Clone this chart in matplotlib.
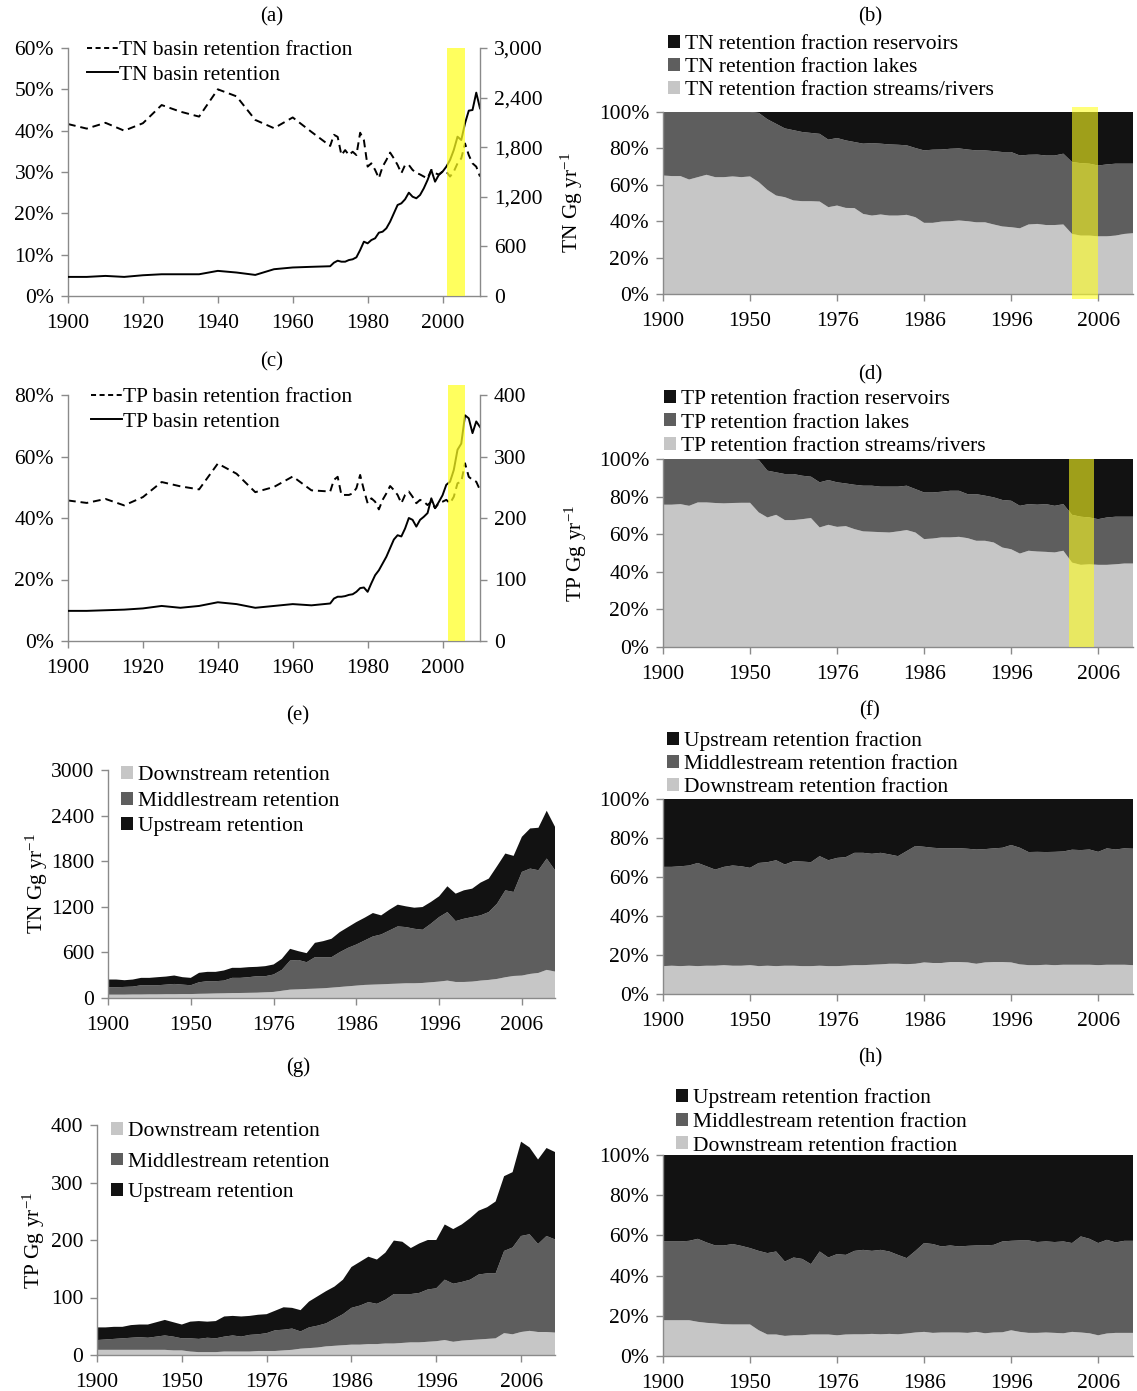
import numpy as np
import matplotlib
matplotlib.use('Agg')
import matplotlib.pyplot as plt
from matplotlib.patches import Patch
from matplotlib.lines import Line2D
from matplotlib.ticker import FuncFormatter

plt.rcParams['font.family'] = ['Liberation Serif', 'DejaVu Serif']
plt.rcParams['mathtext.fontset'] = 'custom'
plt.rcParams['mathtext.rm'] = 'Liberation Serif'
plt.rcParams['mathtext.it'] = 'Liberation Serif:italic'
plt.rcParams['mathtext.default'] = 'rm'

# ---------------- data ----------------
years = [1900, 1905, 1910, 1915, 1920, 1925, 1930, 1935, 1940, 1945, 1950, 1955, 1960, 1965, 1970,
         1971, 1972, 1973, 1974, 1975, 1976, 1977, 1978, 1979, 1980,
         1981, 1982, 1983, 1984, 1985, 1986, 1987, 1988, 1989, 1990,
         1991, 1992, 1993, 1994, 1995, 1996, 1997, 1998, 1999, 2000,
         2001, 2002, 2003, 2004, 2005, 2006, 2007, 2008, 2009, 2010]
tick_labels = ['1900', '1950', '1976', '1986', '1996', '2006']

# (a) TN basin
tn_frac = [41.6, 40.5, 41.9, 40.0, 41.8, 46.2, 44.6, 43.4, 50.0, 48.3, 42.6, 40.6, 43.2, 39.7, 36.3,
           39.0, 38.5, 34.1, 35.3, 34.1, 34.9, 34.1, 39.5, 37.7, 31.3,
           32.1, 30.5, 28.5, 31.3, 32.9, 34.7, 33.3, 31.7, 29.7, 31.7,
           31.7, 30.5, 29.8, 29.4, 28.9, 28.5, 30.5, 29.7, 29.4, 30.1,
           30.1, 28.9, 30.1, 32.1, 33.3, 36.9, 34.1, 32.1, 31.3, 28.9]
tn_ret = [231, 231, 243, 231, 251, 263, 263, 263, 304, 284, 255, 324, 345, 353, 360,
          403, 427, 415, 415, 435, 444, 468, 556, 657, 637,
          677, 698, 766, 778, 819, 899, 1000, 1101, 1121, 1170,
          1250, 1201, 1182, 1222, 1303, 1403, 1524, 1383, 1464, 1504,
          1564, 1645, 1766, 1927, 1887, 2089, 2242, 2250, 2460, 2270]

# (c) TP basin
tp_frac = [45.7, 44.9, 46.2, 44.1, 46.8, 51.7, 50.3, 49.3, 57.7, 54.4, 48.4, 50.1, 53.5, 49.0, 48.6,
           52.4, 53.4, 47.5, 47.5, 47.5, 48.0, 49.7, 54.0, 49.1, 44.8,
           46.4, 45.3, 42.8, 45.9, 48.0, 50.4, 49.1, 47.5, 44.8, 47.5,
           48.6, 46.9, 44.8, 45.9, 45.3, 44.2, 45.3, 43.2, 44.8, 45.3,
           45.9, 44.8, 46.9, 51.3, 51.8, 57.8, 53.4, 52.4, 51.8, 49.1]
tp_ret = [49, 49, 50, 51, 53, 57, 54, 57, 63, 60, 54, 57, 60, 58, 61,
          69, 72, 72, 73, 75, 76, 80, 86, 87, 80,
          94, 107, 115, 126, 137, 151, 165, 172, 170, 183,
          200, 197, 186, 197, 202, 208, 232, 216, 226, 237,
          254, 259, 278, 311, 321, 367, 362, 338, 357, 348]

# (b) TN retention fractions (%)
tn_streams = [65.1, 64.8, 64.8, 62.9, 64.2, 65.5, 64.2, 64.2, 64.6, 64.2, 64.6,
              61.5, 57.2, 54.1, 53.2, 51.4, 51.0, 51.0, 50.8, 47.7, 48.6,
              47.3, 47.2, 44.0, 43.1, 43.7, 43.1, 43.1, 43.5, 42.2, 39.1,
              39.1, 39.8, 40.0, 40.4, 40.0, 39.4, 39.4, 38.2, 37.1, 36.7,
              36.1, 38.2, 38.5, 37.9, 37.9, 38.2, 33.0, 32.1, 32.1, 31.7,
              31.7, 32.1, 33.0, 33.4]
tn_lakes = [34.9, 35.2, 35.2, 37.1, 35.8, 34.5, 35.8, 35.8, 35.4, 35.8, 35.4,
            38.0, 38.8, 39.4, 37.8, 38.6, 38.0, 37.5, 37.2, 37.1, 37.1,
            37.1, 36.3, 38.6, 39.8, 38.9, 39.1, 38.9, 38.2, 38.0, 39.8,
            40.2, 39.6, 39.8, 39.6, 39.4, 39.5, 39.5, 40.3, 40.9, 41.3,
            40.0, 38.3, 38.1, 38.2, 38.2, 38.9, 39.5, 39.8, 39.5, 38.9,
            39.5, 39.5, 38.6, 38.2]
tn_reservoirs = [0, 0, 0, 0, 0, 0, 0, 0, 0, 0, 0,
                 0.5, 4.0, 6.5, 9.0, 10.0, 11.0, 11.5, 12.0, 15.2, 14.3,
                 15.6, 16.5, 17.4, 17.1, 17.4, 17.8, 18.0, 18.3, 19.8, 21.1,
                 20.7, 20.6, 20.2, 20.0, 20.6, 21.1, 21.1, 21.5, 22.0, 22.0,
                 23.9, 23.5, 23.4, 23.9, 23.9, 22.9, 27.5, 28.1, 28.4, 29.4,
                 28.8, 28.4, 28.4, 28.4]

# (d) TP retention fractions (%)
tp_streams = [75.7, 75.7, 76.0, 75.1, 76.9, 76.9, 76.6, 76.4, 76.6, 76.7, 76.7,
              71.6, 68.9, 70.3, 67.5, 67.5, 68.0, 68.6, 63.6, 65.0, 63.9,
              64.3, 62.7, 61.5, 61.3, 61.1, 60.9, 61.5, 62.2, 60.9, 57.4,
              57.7, 58.3, 58.3, 58.6, 57.9, 56.5, 56.5, 55.6, 52.9, 52.0,
              49.7, 51.2, 50.8, 50.6, 50.3, 51.2, 44.9, 43.7, 44.0, 43.7,
              43.7, 44.0, 44.4, 44.4]
tp_lakes = [24.3, 24.3, 24.0, 24.9, 23.1, 23.1, 23.4, 23.6, 23.4, 23.3, 23.3,
            27.9, 24.9, 22.6, 24.5, 24.5, 23.1, 22.0, 24.0, 23.8, 23.7,
            22.7, 23.6, 24.3, 24.5, 24.2, 24.4, 23.8, 23.6, 23.1, 24.8,
            24.5, 24.3, 24.8, 24.5, 23.4, 24.8, 24.0, 24.0, 25.3, 25.8,
            25.4, 24.8, 24.9, 25.4, 24.8, 24.8, 25.4, 25.6, 24.9, 24.3,
            25.2, 25.3, 24.9, 24.9]
tp_reservoirs = [0, 0, 0, 0, 0, 0, 0, 0, 0, 0, 0,
                 0.5, 6.2, 7.1, 8.0, 8.0, 8.9, 9.4, 12.4, 11.2, 12.4,
                 13.0, 13.7, 14.2, 14.2, 14.7, 14.7, 14.7, 14.2, 16.0, 17.8,
                 17.8, 17.4, 16.9, 16.9, 18.7, 18.7, 19.5, 20.4, 21.8, 22.2,
                 24.9, 24.0, 24.3, 24.0, 24.9, 24.0, 29.7, 30.7, 31.1, 32.0,
                 31.1, 30.7, 30.7, 30.7]

# (e) TN retention by reach (Gg/yr)
tn_down = [44, 44, 44, 46, 46, 48, 48, 50, 50, 52, 52,
           55, 57, 60, 62, 65, 66, 68, 70, 75, 80,
           95, 110, 114, 119, 123, 128, 136, 145, 154, 163,
           172, 176, 180, 185, 189, 194, 194, 198, 207, 216,
           229, 211, 211, 216, 229, 238, 251, 273, 290, 295,
           317, 330, 370, 348]
tn_middle = [97, 97, 102, 104, 122, 120, 120, 126, 135, 124, 116,
             152, 164, 161, 167, 200, 199, 206, 217, 212, 229,
             275, 383, 386, 352, 414, 409, 401, 458, 506, 541,
             585, 634, 656, 704, 753, 739, 717, 700, 770, 849,
             902, 801, 832, 849, 858, 893, 990, 1144, 1105, 1364,
             1386, 1351, 1465, 1333]
tn_up = [102, 102, 88, 93, 97, 97, 106, 106, 111, 98, 97,
         124, 123, 123, 133, 132, 132, 132, 123, 132, 132,
         145, 154, 116, 119, 189, 211, 242, 264, 273, 295,
         299, 308, 251, 273, 286, 273, 277, 299, 286, 273,
         339, 361, 374, 374, 431, 440, 493, 484, 475, 462,
         528, 559, 629, 572]

# (f) TN retention fractions by reach (%)
tn_down_f = [14.3, 14.5, 14.3, 14.5, 14.3, 14.5, 14.5, 14.8, 14.5, 14.5, 14.8,
             14.3, 14.5, 14.3, 14.5, 14.5, 14.3, 14.3, 14.5, 14.3, 14.3,
             14.5, 14.8, 14.8, 15.0, 15.2, 15.5, 15.5, 15.3, 15.5, 16.2,
             15.9, 15.9, 16.4, 16.4, 16.2, 15.5, 16.2, 16.4, 16.4, 16.2,
             15.2, 14.8, 14.8, 15.0, 14.8, 15.0, 15.0, 15.0, 15.0, 14.8,
             15.0, 15.0, 15.0, 14.8]
tn_middle_f = [50.9, 50.7, 51.2, 51.4, 52.9, 51.0, 49.3, 50.4, 51.4, 51.0, 49.9,
               52.9, 53.1, 54.3, 51.9, 53.6, 53.6, 53.3, 56.2, 54.3, 55.5,
               55.7, 57.6, 57.6, 56.9, 57.2, 56.1, 55.2, 58.0, 60.4, 59.3,
               59.1, 58.8, 58.3, 58.4, 58.3, 58.6, 58.1, 58.3, 58.6, 60.2,
               59.8, 58.0, 58.1, 57.8, 58.1, 58.1, 59.0, 58.8, 59.1, 58.1,
               59.7, 59.1, 59.7, 59.7]
tn_up_f = [34.8, 34.8, 34.5, 34.1, 32.8, 34.5, 36.2, 34.8, 34.1, 34.5, 35.3,
           32.8, 32.4, 31.4, 33.6, 31.9, 32.1, 32.4, 29.3, 31.4, 30.2,
           29.8, 27.6, 27.6, 28.1, 27.6, 28.4, 29.3, 26.7, 24.1, 24.5,
           25.0, 25.3, 25.3, 25.2, 25.5, 25.9, 25.7, 25.3, 25.0, 23.6,
           25.0, 27.2, 27.1, 27.2, 27.1, 26.9, 26.0, 26.2, 25.9, 27.1,
           25.3, 25.9, 25.3, 25.5]

# (g) TP retention by reach (Gg/yr)
tp_down = [9, 9, 9, 9, 9, 9, 9, 9, 9, 8, 8,
           6, 5, 5, 5, 6, 6, 6, 6, 7, 7,
           7, 8, 9, 11, 12, 13, 15, 16, 17, 18,
           18, 19, 19, 20, 20, 21, 22, 22, 23, 24,
           26, 23, 25, 26, 27, 28, 29, 38, 36, 40,
           42, 40, 40, 39]
tp_middle = [17, 18, 19, 20, 21, 22, 21, 23, 25, 24, 21,
             23, 23, 25, 24, 26, 28, 26, 29, 29, 31,
             36, 36, 37, 30, 36, 38, 40, 47, 54, 64,
             68, 73, 70, 76, 86, 85, 84, 86, 91, 92,
             105, 101, 102, 105, 113, 114, 113, 143, 151, 167,
             168, 153, 167, 162]
tp_up = [22, 21, 21, 20, 22, 22, 23, 25, 27, 25, 24,
         29, 31, 28, 30, 35, 34, 35, 33, 34, 33,
         34, 39, 36, 37, 45, 51, 56, 56, 60, 71,
         76, 79, 77, 82, 93, 91, 80, 86, 86, 84,
         96, 95, 100, 107, 111, 115, 125, 130, 131, 164,
         151, 147, 153, 152]

# (h) TP retention fractions by reach (%)
tp_down_f = [17.8, 17.8, 17.8, 17.8, 17.0, 16.5, 16.2, 15.8, 15.7, 15.7, 15.7,
             12.8, 10.7, 10.7, 10.0, 10.3, 10.3, 10.7, 10.7, 10.7, 10.3,
             10.7, 10.8, 10.8, 11.0, 10.8, 11.0, 10.8, 11.2, 11.7, 12.0,
             11.5, 11.7, 11.7, 11.7, 11.5, 12.0, 11.3, 11.7, 11.8, 12.8,
             12.0, 11.5, 11.5, 11.7, 11.5, 11.3, 12.0, 11.7, 11.3, 10.3,
             11.2, 11.5, 11.5, 11.5]
tp_middle_f = [39.2, 39.2, 39.2, 39.5, 41.3, 40.0, 38.8, 39.2, 40.0, 39.1, 38.0,
               39.5, 40.5, 41.3, 37.0, 38.7, 38.0, 35.0, 41.3, 38.3, 40.4,
               39.6, 41.5, 42.0, 41.3, 42.0, 41.0, 39.5, 37.5, 40.6, 44.2,
               44.2, 42.8, 43.3, 42.8, 43.3, 43.0, 43.7, 43.6, 45.2, 44.5,
               45.5, 46.0, 45.2, 45.3, 45.2, 45.7, 44.2, 47.8, 47.0, 45.9,
               46.6, 45.0, 45.8, 45.8]
tp_up_f = [43.0, 43.0, 43.0, 42.7, 41.7, 43.5, 45.0, 45.0, 44.3, 45.2, 46.3,
           47.7, 48.8, 48.0, 53.0, 51.0, 51.7, 54.3, 48.0, 51.0, 49.3,
           49.7, 47.7, 47.2, 47.7, 47.2, 48.0, 49.7, 51.3, 47.7, 43.8,
           44.3, 45.5, 45.0, 45.5, 45.2, 45.0, 45.0, 44.7, 43.0, 42.7,
           42.5, 42.5, 43.3, 43.0, 43.3, 43.0, 43.8, 40.5, 41.7, 43.8,
           42.2, 43.5, 42.7, 42.7]

# ---------------- styling ----------------
W, H = 1137, 1391
LIGHT = '#c6c6c6'
MID = '#5e5e5e'
DARK = '#121212'
AXC = '#8a8a8a'
YEL = '#ffff20'
FS = 15.5

fig = plt.figure(figsize=(W / 100, H / 100), dpi=100)


def rect(l, t, r, b):
    return [l / W, 1 - b / H, (r - l) / W, (b - t) / H]


def base_style(ax, right=False):
    ax.spines['top'].set_visible(False)
    if not right:
        ax.spines['right'].set_visible(False)
    for s in ax.spines.values():
        s.set_color(AXC)
        s.set_linewidth(1.0)
    ax.tick_params(direction='out', length=5, width=1, color=AXC,
                   labelsize=FS, labelcolor='black', pad=5)
    ax.tick_params(axis='x', pad=8)


def pct(v, p):
    return f'{int(round(v))}%'


def cat_axis(ax):
    ax.set_xlim(0, len(years) - 1)
    ax.set_xticks([years.index(int(t)) for t in tick_labels])
    ax.set_xticklabels(tick_labels)


def ptitle(txt, x, y):
    fig.text(x / W, 1 - y / H, txt, ha='center', va='center', fontsize=15)


def line_legend(ax, labels, x, ytop):
    ax.legend(handles=[Line2D([], [], color='black', lw=1.4, ls=(0, (2.6, 1.8))),
                       Line2D([], [], color='black', lw=1.4)],
              labels=labels, loc='upper left', bbox_to_anchor=(x / W, 1 - ytop / H),
              bbox_transform=fig.transFigure, frameon=False, fontsize=FS,
              handlelength=1.45, handletextpad=0.05, labelspacing=0.22,
              borderpad=0, borderaxespad=0)


def leg(ax, labels, colors, x, ytop, spacing):
    hs = [Patch(facecolor=c, edgecolor='none', label=l) for l, c in zip(labels, colors)]
    ax.legend(handles=hs, loc='upper left', bbox_to_anchor=(x / W, 1 - ytop / H),
              bbox_transform=fig.transFigure, frameon=False, fontsize=FS,
              handlelength=0.55, handleheight=0.55, handletextpad=0.25,
              labelspacing=spacing, borderpad=0, borderaxespad=0)


x_cat = np.arange(len(years))

# ---------- (a) ----------
axa = fig.add_axes(rect(68, 48, 480, 296))
axa2 = axa.twinx()
base_style(axa)
base_style(axa2, right=True)
axa2.spines['left'].set_visible(False)
axa2.spines['bottom'].set_visible(False)
axa.plot(years, tn_frac, color='black', lw=1.4, ls=(0, (4, 2.5)))
axa2.plot(years, tn_ret, color='black', lw=1.4)
axa.set_xlim(1900, 2010)
axa.set_ylim(0, 60)
axa2.set_ylim(0, 3000)
axa.set_xticks(range(1900, 2011, 20))
axa.set_yticks(range(0, 61, 10))
axa.yaxis.set_major_formatter(FuncFormatter(pct))
axa2.set_yticks(range(0, 3001, 600))
axa2.yaxis.set_major_formatter(FuncFormatter(lambda v, p: f'{int(v):,}'))
axa2.axvspan(2001.3, 2006.1, color=YEL, alpha=0.72, lw=0, zorder=5)
line_legend(axa2, ['TN basin retention fraction', 'TN basin retention'], 87, 40)
ptitle('(a)', 272, 17)

# ---------- (c) ----------
axc = fig.add_axes(rect(68, 395, 480, 641))
axc2 = axc.twinx()
base_style(axc)
base_style(axc2, right=True)
axc2.spines['left'].set_visible(False)
axc2.spines['bottom'].set_visible(False)
axc.plot(years, tp_frac, color='black', lw=1.4, ls=(0, (4, 2.5)))
axc2.plot(years, tp_ret, color='black', lw=1.4)
axc.set_xlim(1900, 2010)
axc.set_ylim(0, 80)
axc2.set_ylim(0, 400)
axc.set_xticks(range(1900, 2011, 20))
axc.set_yticks(range(0, 81, 20))
axc.yaxis.set_major_formatter(FuncFormatter(pct))
axc2.set_yticks(range(0, 401, 100))
r = axc2.axvspan(2001.4, 2005.9, ymin=0, ymax=1.04, color=YEL, alpha=0.72, lw=0, zorder=5)
r.set_clip_on(False)
line_legend(axc2, ['TP basin retention fraction', 'TP basin retention'], 91, 387)
ptitle('(c)', 272, 362)

# ---------- (b) ----------
axb = fig.add_axes(rect(663, 112, 1133, 294))
base_style(axb)
axb.stackplot(x_cat, tn_streams, tn_lakes, tn_reservoirs, colors=[LIGHT, MID, DARK], lw=0)
cat_axis(axb)
axb.set_ylim(0, 100)
axb.set_yticks(range(0, 101, 20))
axb.yaxis.set_major_formatter(FuncFormatter(pct))
r = axb.axvspan(47.0, 50.0, ymin=-0.03, ymax=1.03, color=YEL, alpha=0.6, lw=0, zorder=5)
r.set_clip_on(False)
axb.set_ylabel('TN Gg yr$^{-1}$', fontsize=FS)
axb.yaxis.set_label_coords(-0.165, 0.5)
leg(axb, ['TN retention fraction reservoirs', 'TN retention fraction lakes',
          'TN retention fraction streams/rivers'], [DARK, MID, LIGHT], 668, 35, 0.18)
ptitle('(b)', 870, 17)

# ---------- (d) ----------
axd = fig.add_axes(rect(663, 459, 1133, 647))
base_style(axd)
axd.stackplot(x_cat, tp_streams, tp_lakes, tp_reservoirs, colors=[LIGHT, MID, DARK], lw=0)
cat_axis(axd)
axd.set_ylim(0, 100)
axd.set_yticks(range(0, 101, 20))
axd.yaxis.set_major_formatter(FuncFormatter(pct))
axd.axvspan(46.6, 49.5, color=YEL, alpha=0.6, lw=0, zorder=5)
axd.set_ylabel('TP Gg yr$^{-1}$', fontsize=FS)
axd.yaxis.set_label_coords(-0.158, 0.5)
leg(axd, ['TP retention fraction reservoirs', 'TP retention fraction lakes',
          'TP retention fraction streams/rivers'], [DARK, MID, LIGHT], 664, 390, 0.2)
ptitle('(d)', 870, 375)

# ---------- (e) ----------
axe = fig.add_axes(rect(108, 770, 555, 998))
base_style(axe)
axe.stackplot(x_cat, tn_down, tn_middle, tn_up, colors=[LIGHT, MID, DARK], lw=0)
cat_axis(axe)
axe.set_ylim(0, 3000)
axe.set_yticks(range(0, 3001, 600))
axe.set_ylabel('TN Gg yr$^{-1}$', fontsize=FS)
axe.yaxis.set_label_coords(-0.13, 0.5)
leg(axe, ['Downstream retention', 'Middlestream retention', 'Upstream retention'],
    [LIGHT, MID, DARK], 121, 766, 0.3)
ptitle('(e)', 298, 716)

# ---------- (f) ----------
axf = fig.add_axes(rect(663, 799, 1133, 994))
base_style(axf)
axf.stackplot(x_cat, tn_down_f, tn_middle_f, tn_up_f, colors=[LIGHT, MID, DARK], lw=0)
cat_axis(axf)
axf.set_ylim(0, 100)
axf.set_yticks(range(0, 101, 20))
axf.yaxis.set_major_formatter(FuncFormatter(pct))
leg(axf, ['Upstream retention fraction', 'Middlestream retention fraction',
          'Downstream retention fraction'], [DARK, MID, LIGHT], 667, 731, 0.18)
ptitle('(f)', 870, 711)

# ---------- (g) ----------
axg = fig.add_axes(rect(97, 1125, 555, 1355))
base_style(axg)
axg.stackplot(x_cat, tp_down, tp_middle, tp_up, colors=[LIGHT, MID, DARK], lw=0)
cat_axis(axg)
axg.set_ylim(0, 400)
axg.set_yticks(range(0, 401, 100))
axg.set_ylabel('TP Gg yr$^{-1}$', fontsize=FS)
axg.yaxis.set_label_coords(-0.11, 0.5)
leg(axg, ['Downstream retention', 'Middlestream retention', 'Upstream retention'],
    [LIGHT, MID, DARK], 111, 1122, 0.53)
ptitle('(g)', 298, 1067)

# ---------- (h) ----------
axh = fig.add_axes(rect(663, 1155, 1133, 1356))
base_style(axh)
axh.stackplot(x_cat, tp_down_f, tp_middle_f, tp_up_f, colors=[LIGHT, MID, DARK], lw=0)
cat_axis(axh)
axh.set_ylim(0, 100)
axh.set_yticks(range(0, 101, 20))
axh.yaxis.set_major_formatter(FuncFormatter(pct))
leg(axh, ['Upstream retention fraction', 'Middlestream retention fraction',
          'Downstream retention fraction'], [DARK, MID, LIGHT], 676, 1088, 0.22)
ptitle('(h)', 870, 1058)

fig.savefig('out.png', dpi=100)
